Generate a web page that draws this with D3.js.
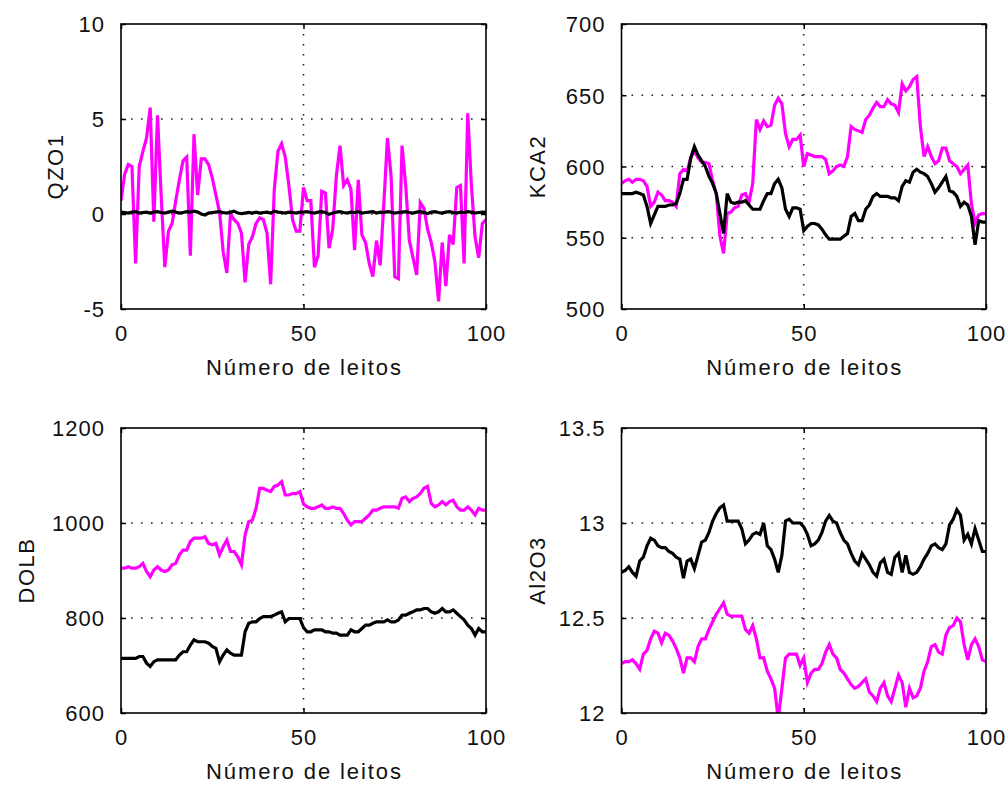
<!DOCTYPE html>
<html><head><meta charset="utf-8">
<script src="https://cdn.jsdelivr.net/npm/d3@7"></script>
<style>
body{margin:0;background:#fff}
text{font-family:"Liberation Sans",Arial,sans-serif;fill:#111}
</style>
</head><body>
<svg id="c" width="1008" height="785"></svg>
<script>
// ---------- data ----------
const xTicks = [0, 50, 100];
const xLabel = "Número de leitos";

const qzoTicks = [-5, 0, 5, 10];
const qzoMag = [0.7,2.1,2.6,2.5,-2.6,2.5,3.3,4.0,5.6,-0.4,
  5.2,1.0,-2.8,-0.9,-0.5,0.7,1.8,2.8,3.0,-2.2,
  4.2,1.0,2.9,2.9,2.6,1.9,1.0,0.1,-2.0,-3.1,
  0.0,-0.3,-0.5,-1.0,-3.6,-1.6,-1.2,-0.5,-0.2,-0.3,
  -1.0,-3.7,1.3,3.3,3.7,3.0,1.5,-0.3,-0.9,-0.9,
  1.4,0.7,0.7,-2.8,-2.2,1.2,1.1,-1.8,-0.8,2.0,
  3.6,1.5,1.8,1.3,-1.9,1.8,-1.1,-1.5,-2.6,-3.3,
  -1.4,-2.7,0.5,4.0,2.0,-3.3,-3.4,3.6,1.5,-1.4,
  -2.3,-3.2,0.6,0.3,-0.8,-1.5,-2.5,-4.6,-1.5,-3.8,
  -1.1,-1.6,1.4,1.5,-2.6,5.3,1.5,-1.2,-2.3,-0.5,-0.3];
const qzoBlk = [0.10,0.08,0.05,0.10,0.12,0.05,0.08,0.10,0.05,0.10,
  0.12,0.08,0.05,0.10,0.15,0.10,0.05,0.08,0.12,0.10,
  0.15,0.10,0.00,-0.05,0.05,0.08,0.10,0.12,0.08,0.05,
  0.10,0.15,0.05,0.02,0.05,0.08,0.05,0.10,0.05,0.08,
  0.10,0.05,0.15,0.10,0.08,0.05,0.10,0.08,0.05,0.10,
  0.10,0.12,0.08,0.05,0.10,0.12,0.08,-0.02,0.05,0.10,
  0.12,0.08,0.05,0.10,0.08,0.12,0.05,0.08,0.10,0.12,
  0.05,0.10,0.08,0.12,0.10,0.05,0.08,0.10,0.12,0.08,
  0.05,0.10,0.12,0.08,0.02,0.10,0.12,0.08,0.05,0.10,
  0.12,0.08,0.05,0.10,0.08,0.12,0.10,0.05,0.08,0.10,0.08];

const kcaTicks = [500, 550, 600, 650, 700];
const kcaMag = [588,590,591,589,591,591,590,586,572,575,
  582,580,576,576,575,572,595,598,597,606,
  611,606,603,603,602,590,581,551,539,567,
  568,571,572,580,581,575,588,633,626,632,
  628,629,643,648,644,623,614,619,619,622,
  600,609,608,607,607,607,605,595,597,600,
  601,600,607,628,626,625,624,633,636,641,
  645,642,642,647,644,643,638,658,653,656,
  661,663,628,607,614,607,602,604,613,613,
  604,602,600,595,598,601,574,560,566,567,567];
const kcaBlk = [581,581,581,581,582,581,580,572,560,566,
  572,572,572,573,573,574,581,591,591,606,
  614,608,604,600,593,588,581,567,553,581,
  575,574,575,575,576,573,570,570,570,576,
  581,581,588,591,585,570,565,571,571,570,
  555,558,560,560,559,556,552,549,549,549,
  549,551,553,565,567,562,562,570,573,579,
  581,579,579,579,578,578,576,586,590,589,
  596,598,596,595,593,588,582,585,589,593,
  583,582,579,572,575,573,565,545,562,561,561];

const dolbTicks = [600, 800, 1000, 1200];
const dolbMag = [905,905,908,905,905,908,915,898,887,901,
  908,901,898,901,912,915,933,943,943,961,
  968,968,968,971,957,954,957,933,950,964,
  940,940,929,912,975,1003,1006,1031,1073,1073,
  1069,1066,1077,1080,1087,1059,1059,1062,1062,1066,
  1040,1034,1031,1031,1034,1038,1031,1031,1034,1031,
  1031,1020,1006,996,1003,1003,1003,1010,1017,1027,
  1027,1031,1034,1034,1034,1034,1031,1052,1055,1045,
  1052,1055,1062,1073,1077,1041,1034,1038,1045,1038,
  1045,1048,1034,1027,1027,1034,1027,1017,1031,1027,1027];
const dolbBlk = [715,715,715,715,715,719,719,705,698,708,
  712,712,712,712,712,712,722,729,729,743,
  754,750,750,750,747,740,736,708,722,733,
  726,722,722,722,771,789,792,792,799,803,
  803,803,806,810,813,792,799,799,799,799,
  780,771,771,775,775,775,771,771,768,768,
  764,764,764,775,771,771,778,785,785,789,
  792,792,792,796,792,792,796,806,806,810,
  813,817,817,820,820,813,810,813,820,813,
  813,817,810,803,796,785,778,764,778,771,771];

const alTicks = [12, 12.5, 13, 13.5];
const alBlk = [12.74,12.75,12.77,12.74,12.72,12.80,12.82,12.88,12.92,12.91,
  12.88,12.87,12.87,12.85,12.84,12.82,12.81,12.71,12.80,12.81,
  12.76,12.83,12.90,12.91,12.95,13.01,13.05,13.08,13.095,13.01,
  13.01,13.01,13.01,12.97,12.89,12.91,12.94,12.95,12.94,13.00,
  12.88,12.86,12.81,12.74,12.83,13.01,13.02,13.00,13.00,13.00,
  12.98,12.94,12.88,12.89,12.91,12.95,13.01,13.04,13.01,13.00,
  12.95,12.91,12.89,12.84,12.80,12.78,12.84,12.81,12.78,12.74,
  12.72,12.79,12.81,12.74,12.73,12.82,12.84,12.74,12.83,12.74,
  12.73,12.74,12.77,12.81,12.84,12.88,12.89,12.87,12.86,12.89,
  12.99,13.02,13.07,13.04,12.91,12.94,12.89,12.97,12.91,12.85,12.85];
const alMag = [12.26,12.27,12.27,12.28,12.26,12.23,12.31,12.33,12.39,12.43,
  12.42,12.37,12.42,12.41,12.38,12.34,12.29,12.21,12.29,12.29,
  12.27,12.35,12.39,12.39,12.44,12.48,12.52,12.55,12.58,12.52,
  12.51,12.51,12.51,12.51,12.44,12.42,12.46,12.39,12.29,12.29,
  12.22,12.18,12.13,11.97,12.13,12.29,12.31,12.31,12.31,12.25,
  12.29,12.16,12.21,12.23,12.23,12.26,12.32,12.36,12.31,12.29,
  12.23,12.21,12.18,12.15,12.13,12.14,12.16,12.18,12.11,12.09,
  12.06,12.13,12.16,12.09,12.06,12.13,12.20,12.16,12.03,12.13,
  12.08,12.09,12.13,12.22,12.27,12.35,12.36,12.32,12.31,12.41,
  12.45,12.46,12.50,12.48,12.36,12.28,12.36,12.39,12.35,12.28,12.27];

// ---------- layout ----------
const panels = [
  {label:"QZO1", ticks:qzoTicks, mag:qzoMag, blk:qzoBlk, x0:121, x1:486, y0:24, y1:309, lx:63},
  {label:"KCA2", ticks:kcaTicks, mag:kcaMag, blk:kcaBlk, x0:621.5, x1:986, y0:24, y1:309, lx:545},
  {label:"DOLB", ticks:dolbTicks, mag:dolbMag, blk:dolbBlk, x0:121, x1:486, y0:428, y1:713, lx:34},
  {label:"Al2O3", ticks:alTicks, mag:alMag, blk:alBlk, x0:621.5, x1:986, y0:428, y1:713, lx:545}
];

const svg = d3.select("#c");
const FS = 22;
const fmt = d => String(d);

panels.forEach((p, k) => {
  const x = d3.scaleLinear().domain([xTicks[0], xTicks[xTicks.length-1]]).range([p.x0, p.x1]);
  const y = d3.scaleLinear().domain(d3.extent(p.ticks)).range([p.y1, p.y0]);
  const g = svg.append("g");

  // grid (dotted) at interior ticks
  const grid = g.append("g").attr("stroke", "#222").attr("stroke-width", 1.6)
    .attr("stroke-dasharray", "1.6,8.4");
  xTicks.slice(1, -1).forEach(t => grid.append("line")
    .attr("x1", x(t)).attr("x2", x(t)).attr("y1", p.y0).attr("y2", p.y1));
  p.ticks.slice(1, -1).forEach(t => grid.append("line")
    .attr("y1", y(t)).attr("y2", y(t)).attr("x1", p.x0).attr("x2", p.x1));

  // clip
  const cid = "clip" + k;
  svg.append("clipPath").attr("id", cid).append("rect")
    .attr("x", p.x0).attr("y", p.y0).attr("width", p.x1 - p.x0).attr("height", p.y1 - p.y0);

  const line = d3.line().x((d, i) => x(i)).y(d => y(d));
  const dg = g.append("g").attr("clip-path", `url(#${cid})`);
  dg.append("path").datum(p.mag).attr("d", line).attr("fill", "none")
    .attr("stroke", "#ff00ff").attr("stroke-width", 3.2).attr("stroke-linejoin", "miter");
  dg.append("path").datum(p.blk).attr("d", line).attr("fill", "none")
    .attr("stroke", "#000").attr("stroke-width", 3.2).attr("stroke-linejoin", "miter");

  // axes using d3 axis, inward ticks, both sides
  const tl = 5;
  const axL = d3.axisLeft(y).tickValues(p.ticks).tickSize(-tl).tickPadding(11 + tl).tickFormat(fmt);
  const axR = d3.axisRight(y).tickValues(p.ticks).tickSize(-tl).tickFormat("");
  const axB = d3.axisBottom(x).tickValues(xTicks).tickSize(-tl).tickPadding(0).tickFormat(fmt);
  const axT = d3.axisTop(x).tickValues(xTicks).tickSize(-tl).tickFormat("");

  const gl = g.append("g").attr("transform", `translate(${p.x0},0)`).call(axL);
  const gr = g.append("g").attr("transform", `translate(${p.x1},0)`).call(axR);
  const gb = g.append("g").attr("transform", `translate(0,${p.y1})`).call(axB);
  const gt = g.append("g").attr("transform", `translate(0,${p.y0})`).call(axT);
  [gl, gr, gb, gt].forEach(a => {
    a.select(".domain").remove();
    a.selectAll(".tick line").attr("stroke", "#000").attr("stroke-width", 1.5);
    a.selectAll("text").attr("font-size", FS).attr("font-family", '"Liberation Sans",Arial,sans-serif')
      .attr("fill", "#111").attr("letter-spacing", 1);
  });
  gl.selectAll("text").attr("dy", "0.36em");
  gb.selectAll("text").attr("dy", null).attr("y", 32);

  // box
  g.append("rect").attr("x", p.x0).attr("y", p.y0).attr("width", p.x1 - p.x0).attr("height", p.y1 - p.y0)
    .attr("fill", "none").attr("stroke", "#000").attr("stroke-width", 1.6);

  // labels
  g.append("text").attr("x", (p.x0 + p.x1) / 2).attr("y", p.y1 + 66)
    .attr("text-anchor", "middle").attr("font-size", FS)
    .attr("textLength", 195).attr("lengthAdjust", "spacing").text(xLabel);
  g.append("text").attr("transform", `translate(${p.lx},${(p.y0 + p.y1) / 2}) rotate(-90)`)
    .attr("text-anchor", "middle").attr("font-size", FS).attr("letter-spacing", 1.5).text(p.label);
});
</script>
</body></html>
